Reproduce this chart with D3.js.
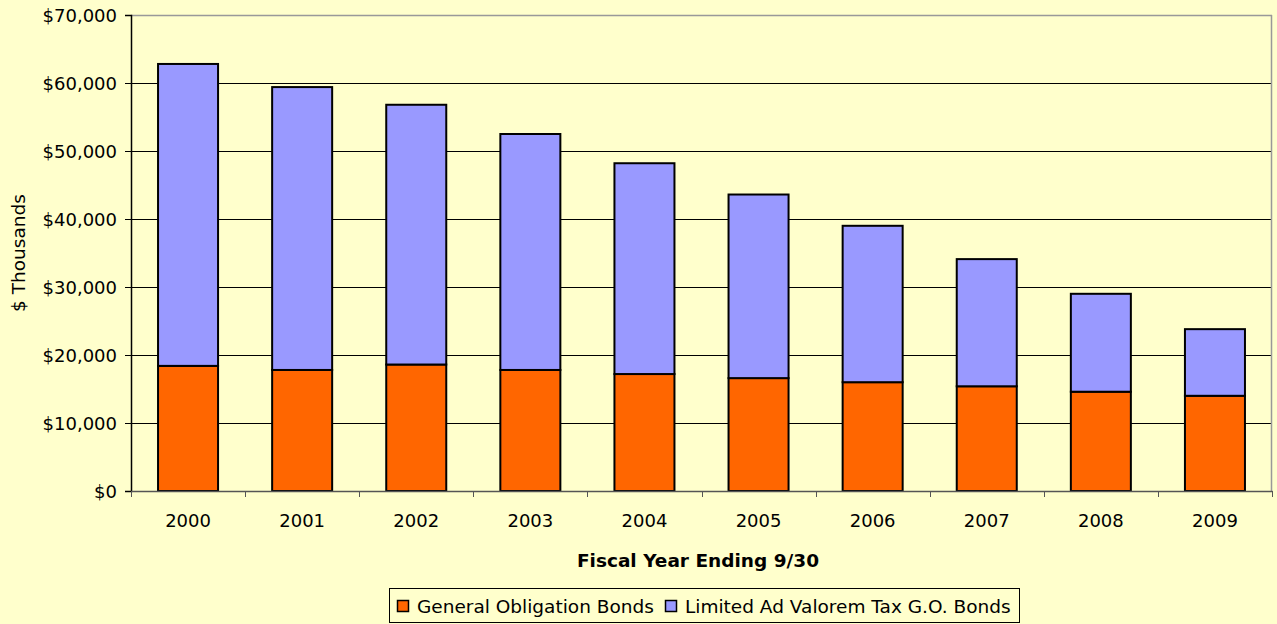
<!DOCTYPE html>
<html>
<head>
<meta charset="utf-8">
<script src="https://cdn.jsdelivr.net/npm/d3@7"></script>
<style>
  html, body { margin: 0; padding: 0; background: #FFFFCC; }
  svg { display: block; }
  text { font-family: "DejaVu Sans", Verdana, sans-serif; fill: #000; }
</style>
</head>
<body>
<svg id="chart" width="1277" height="624"></svg>
<script>
// Outstanding debt by fiscal year, $ thousands
const years = ["2000", "2001", "2002", "2003", "2004", "2005", "2006", "2007", "2008", "2009"];
const generalObligation = [18400, 17800, 18600, 17800, 17200, 16600, 16000, 15400, 14600, 14000];
const limitedAdValorem = [44400, 41600, 38200, 34700, 31000, 27000, 23000, 18700, 14400, 9800];
const seriesNames = ["General Obligation Bonds", "Limited Ad Valorem Tax G.O. Bonds"];
const seriesColors = ["#FF6600", "#9999FF"];
const yTicks = [0, 10000, 20000, 30000, 40000, 50000, 60000, 70000];

const svg = d3.select("#chart");
const W = 1277, H = 624;
const plot = { left: 131, right: 1272, top: 15, bottom: 491 };
const fontSize = 18;

svg.append("rect").attr("width", W).attr("height", H).attr("fill", "#FFFFCC");

const x = d3.scaleBand().domain(years).range([plot.left, plot.right]).paddingInner(0.474).paddingOuter(0.237);
const y = d3.scaleLinear().domain([0, 70000]).range([plot.bottom, plot.top]);

// gridlines
svg.append("g")
  .selectAll("line")
  .data(yTicks.filter(t => t > 0 && t < 70000))
  .join("line")
  .attr("x1", plot.left).attr("x2", plot.right)
  .attr("y1", d => Math.round(y(d)) + 0.5).attr("y2", d => Math.round(y(d)) + 0.5)
  .attr("stroke", "#000").attr("stroke-width", 1);

// plot border top/right
svg.append("line").attr("x1", plot.left).attr("x2", plot.right)
  .attr("y1", plot.top + 0.5).attr("y2", plot.top + 0.5).attr("stroke", "#999").attr("stroke-width", 1.5);
svg.append("line").attr("x1", plot.right - 0.5).attr("x2", plot.right - 0.5)
  .attr("y1", plot.top).attr("y2", plot.bottom).attr("stroke", "#999").attr("stroke-width", 1.5);

// stacked bars
const rows = years.map((yr, i) => ({ year: yr, go: generalObligation[i], lav: limitedAdValorem[i] }));
const stack = d3.stack().keys(["go", "lav"])(rows);

svg.append("g")
  .selectAll("g")
  .data(stack)
  .join("g")
  .attr("fill", (d, i) => seriesColors[i])
  .selectAll("rect")
  .data(d => d)
  .join("rect")
  .attr("x", d => x(d.data.year))
  .attr("width", x.bandwidth())
  .attr("y", d => y(d[1]))
  .attr("height", d => y(d[0]) - y(d[1]))
  .attr("stroke", "#000")
  .attr("stroke-width", 2);

// y axis
const yAxis = d3.axisLeft(y).tickValues(yTicks).tickSize(6).tickPadding(8)
  .tickFormat(d => "$" + d3.format(",")(d));
const gy = svg.append("g").attr("transform", `translate(${plot.left},0)`).call(yAxis);
gy.select(".domain").attr("stroke", "#000").attr("stroke-width", 1.5);
gy.selectAll(".tick line").attr("stroke", "#000");
gy.selectAll("text").style("font-size", fontSize + "px").attr("dy", "0.36em");

// x axis
const xAxis = d3.axisBottom(x).tickSize(0).tickPadding(23);
const gx = svg.append("g").attr("transform", `translate(0,${plot.bottom})`).call(xAxis);
gx.select(".domain").attr("stroke", "#555").attr("stroke-width", 1.5);
gx.selectAll("text").style("font-size", fontSize + "px");
// category separator ticks
gx.append("g").selectAll("line")
  .data(d3.range(years.length + 1))
  .join("line")
  .attr("x1", i => Math.round(plot.left + i * (plot.right - plot.left) / years.length) + 0.5)
  .attr("x2", i => Math.round(plot.left + i * (plot.right - plot.left) / years.length) + 0.5)
  .attr("y1", 0).attr("y2", 6)
  .attr("stroke", "#555");

// axis titles
svg.append("text")
  .attr("x", 698).attr("y", 567)
  .attr("text-anchor", "middle")
  .style("font-size", "18.5px").style("font-weight", "bold")
  .text("Fiscal Year Ending 9/30");

svg.append("text")
  .attr("transform", "translate(25,253) rotate(-90)")
  .attr("text-anchor", "middle")
  .style("font-size", "18.5px")
  .text("$ Thousands");

// legend
const legend = svg.append("g");
legend.append("rect")
  .attr("x", 389.5).attr("y", 588.5).attr("width", 630).attr("height", 34)
  .attr("fill", "#FFFFCC").attr("stroke", "#000").attr("stroke-width", 1);
const legendX = [397, 665];
seriesNames.forEach((name, i) => {
  legend.append("rect")
    .attr("x", legendX[i] + 0.5).attr("y", 600.5).attr("width", 11).attr("height", 11)
    .attr("fill", seriesColors[i]).attr("stroke", "#000").attr("stroke-width", 1.5);
  legend.append("text")
    .attr("x", legendX[i] + 20).attr("y", 613)
    .style("font-size", "18.5px")
    .text(name);
});
</script>
</body>
</html>
